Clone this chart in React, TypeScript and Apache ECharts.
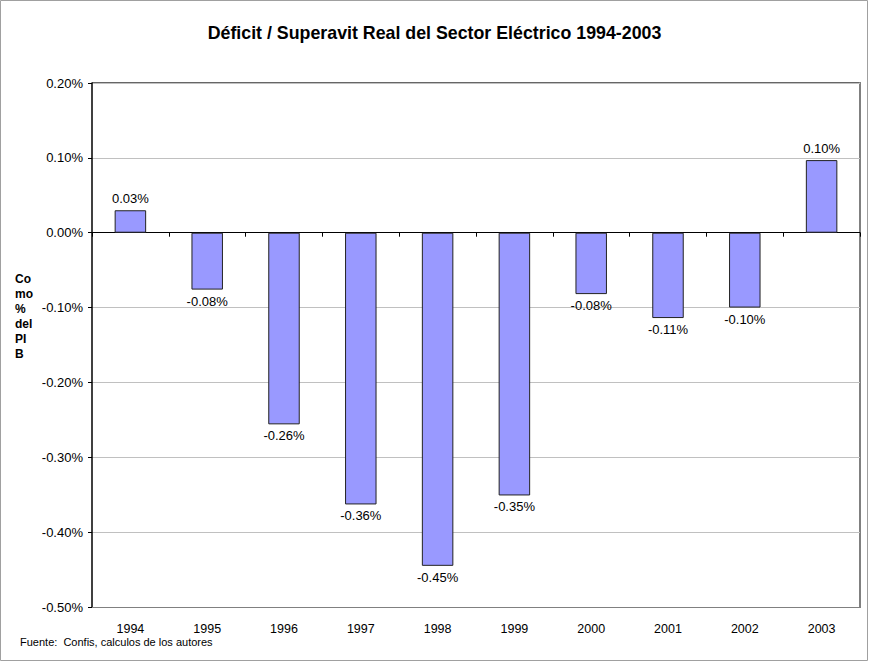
import React, { useEffect, useRef } from "react";
import * as echarts from "echarts";

const years = ["1994", "1995", "1996", "1997", "1998", "1999", "2000", "2001", "2002", "2003"];
const values = [0.03, -0.076, -0.256, -0.363, -0.445, -0.351, -0.082, -0.114, -0.1, 0.097];
const titleText = "Déficit / Superavit Real del Sector Eléctrico 1994-2003";
const yName = "Co\nmo\n%\ndel\nPI\nB";
const sourceText = "Fuente:  Confis, calculos de los autores";

const FONT = "'Liberation Sans', Arial, Helvetica, sans-serif";

export default function App() {
  const ref = useRef<HTMLDivElement>(null);
  useEffect(() => {
    if (!ref.current) return;
    const chart = echarts.init(ref.current, null, { renderer: "svg" });
    const fmt = (v: number) => (Math.abs(v) < 1e-9 ? 0 : v).toFixed(2) + "%";
    chart.setOption({
      animation: false,
      backgroundColor: "#ffffff",
      textStyle: { fontFamily: FONT },
      title: {
        text: titleText,
        left: "center",
        top: 19,
        textStyle: { fontFamily: FONT, fontSize: 17.8, fontWeight: "bold", color: "#000" },
      },
      grid: { left: 92, right: 9, top: 83, bottom: 55, containLabel: false },
      xAxis: [
        {
          type: "category",
          data: years,
          axisLine: { onZero: true, lineStyle: { color: "#000", width: 1 } },
          axisTick: { show: true, length: 4, lineStyle: { color: "#000" } },
          axisLabel: { show: false },
          splitLine: { show: false },
        },
        {
          type: "category",
          data: years,
          position: "bottom",
          axisLine: { show: true, onZero: false, lineStyle: { color: "#808080", width: 1 } },
          axisTick: { show: false },
          axisLabel: { show: true, margin: 15, fontSize: 12.5, color: "#000", fontFamily: FONT },
        },
      ],
      yAxis: {
        type: "value",
        min: -0.5,
        max: 0.2,
        interval: 0.1,
        axisLine: { show: true, lineStyle: { color: "#000", width: 1.5 } },
        axisTick: { show: true, length: 4, lineStyle: { color: "#000" } },
        axisLabel: { formatter: fmt, fontSize: 13, color: "#000", margin: 9, fontFamily: FONT },
        splitLine: { show: true, lineStyle: { color: "#C0C0C0", width: 1 } },
      },
      series: [
        {
          type: "bar",
          xAxisIndex: 0,
          data: values.map((v) => ({
            value: v,
            label: { position: v >= 0 ? "top" : "bottom" },
          })),
          barWidth: "41%",
          itemStyle: { color: "#9999FF", borderColor: "#222", borderWidth: 1 },
          label: {
            show: true,
            distance: 5,
            fontSize: 13,
            color: "#000",
            fontFamily: FONT,
            formatter: (p: any) => fmt(p.value),
          },
        },
      ],
      graphic: [
        {
          type: "rect",
          shape: { x: 0.5, y: 0.5, width: 867, height: 660 },
          style: { fill: "none", stroke: "#A0A0A0", lineWidth: 1 },
          silent: true,
        },
        {
          type: "line",
          shape: { x1: 92, y1: 83, x2: 860, y2: 83 },
          style: { stroke: "#333", lineWidth: 1.5 },
          silent: true,
        },
        {
          type: "line",
          shape: { x1: 860, y1: 82, x2: 860, y2: 608 },
          style: { stroke: "#808080", lineWidth: 2 },
          silent: true,
        },
        {
          type: "text",
          left: 15,
          top: 271,
          style: {
            text: yName,
            font: `bold 12px ${FONT}`,
            lineHeight: 15,
            fill: "#000",
          },
        },
        {
          type: "text",
          left: 20,
          top: 636,
          style: { text: sourceText, font: `11px ${FONT}`, fill: "#000" },
        },
      ],
    });
    return () => chart.dispose();
  }, []);
  return (
    <div
      ref={ref}
      style={{ position: "fixed", left: 0, top: 0, width: 869, height: 662 }}
    />
  );
}
